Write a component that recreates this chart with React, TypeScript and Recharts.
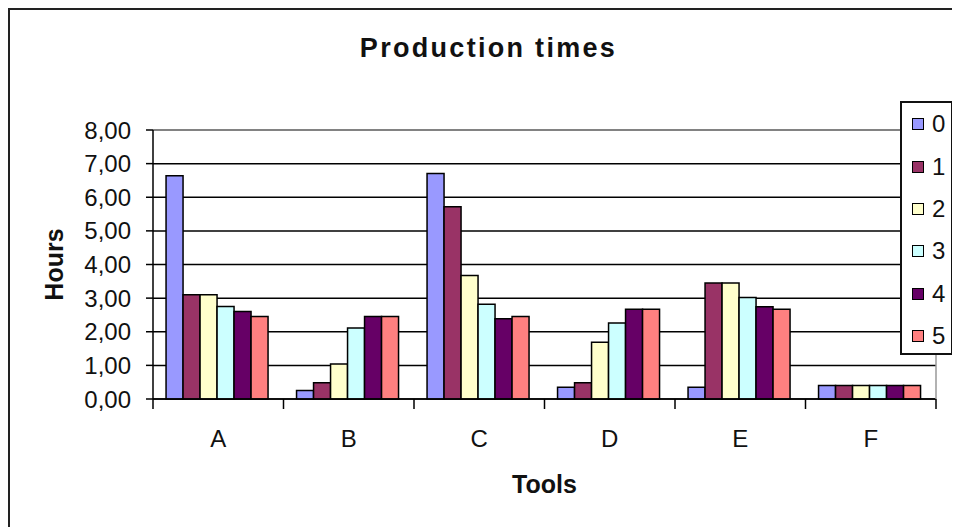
import React from "react";
import { BarChart, Bar, XAxis, YAxis, CartesianGrid, ReferenceLine } from "recharts";

const categories = ["A", "B", "C", "D", "E", "F"];
const seriesNames = ["0", "1", "2", "3", "4", "5"];
const series0 = [6.64, 0.25, 6.71, 0.35, 0.35, 0.4];
const series1 = [3.1, 0.48, 5.72, 0.48, 3.45, 0.4];
const series2 = [3.1, 1.04, 3.67, 1.69, 3.45, 0.4];
const series3 = [2.75, 2.11, 2.82, 2.26, 3.02, 0.4];
const series4 = [2.6, 2.45, 2.39, 2.67, 2.74, 0.4];
const series5 = [2.45, 2.45, 2.45, 2.67, 2.67, 0.4];
const yTicks = [0, 1, 2, 3, 4, 5, 6, 7, 8];
const colors = ["#9999FF", "#993366", "#FFFFCC", "#CCFFFF", "#660066", "#FF8080"];

const allSeries = [series0, series1, series2, series3, series4, series5];
const data = categories.map((c, i) => {
  const row: Record<string, string | number> = { cat: c };
  seriesNames.forEach((s, j) => {
    row["s" + s] = allSeries[j][i];
  });
  return row;
});

const W = 952;
const H = 519;
const MARGIN = { top: 122, right: 23, bottom: 28, left: 0 };
const YW = 145;
const RW = 1;
const XH = 100;
const BAND = (W - MARGIN.left - MARGIN.right - YW - RW) / categories.length;
const FONT = '"Liberation Sans", Arial, Helvetica, sans-serif';

const XTick = (props: any) => {
  const { x, y, payload, index } = props;
  const axisY = y - 31;
  const lx = x - BAND / 2;
  return (
    <g>
      <line x1={lx} y1={axisY} x2={lx} y2={axisY + 10} stroke="#000" strokeWidth={1.5} />
      {index === categories.length - 1 && (
        <line x1={x + BAND / 2} y1={axisY} x2={x + BAND / 2} y2={axisY + 10} stroke="#000" strokeWidth={1.5} />
      )}
      <text x={x} y={y} dy="0.71em" textAnchor="middle" fontSize={24} fill="#111" fontFamily={FONT}>
        {payload.value}
      </text>
    </g>
  );
};

const HoursLabel = (props: any) => {
  const vb = props.viewBox || {};
  const cy = (vb.y || 0) + (vb.height || 0) / 2;
  const cx = 55;
  return (
    <text
      x={cx}
      y={cy}
      textAnchor="middle"
      transform={`rotate(-90 ${cx} ${cy})`}
      fontSize={25}
      fontWeight="bold"
      fill="#111"
      fontFamily={FONT}
    >
      Hours
    </text>
  );
};

export default function App() {
  return (
    <div style={{ position: "relative", width: W, height: H, overflow: "hidden", fontFamily: FONT }}>
      <div
        style={{
          position: "absolute",
          left: 0,
          top: 0,
          width: 1100,
          height: 700,
          border: "2px solid #222",
          boxSizing: "border-box",
        }}
      />
      <BarChart
        width={W}
        height={H}
        data={data}
        margin={MARGIN}
        barCategoryGap="10%"
        barGap={0}
      >
        <CartesianGrid vertical={false} stroke="#000" strokeWidth={1.5} />
        <ReferenceLine y={8} stroke="#999" strokeWidth={1.5} />
        <XAxis
          dataKey="cat"
          height={XH}
          axisLine={{ stroke: "#000", strokeWidth: 1.5 }}
          tickLine={false}
          tickSize={0}
          tickMargin={31}
          tick={<XTick />}
          interval={0}
          label={{
            value: "Tools",
            position: "insideBottom",
            offset: 6,
            fontSize: 25,
            fontWeight: "bold",
            fill: "#111",
            fontFamily: FONT,
          }}
        />
        <YAxis
          width={YW}
          domain={[0, 8]}
          ticks={yTicks}
          interval={0}
          axisLine={{ stroke: "#000", strokeWidth: 1.5 }}
          tickLine={{ stroke: "#000", strokeWidth: 1.5 }}
          tickSize={7}
          tickMargin={15}
          tick={{ fontSize: 24, fill: "#111", fontFamily: FONT }}
          tickFormatter={(v: number) => v.toFixed(2).replace(".", ",")}
          label={<HoursLabel />}
        />
        <YAxis
          yAxisId="r"
          orientation="right"
          width={RW}
          domain={[0, 8]}
          ticks={yTicks}
          axisLine={{ stroke: "#999", strokeWidth: 1.5 }}
          tick={false}
          tickLine={false}
        />
        {seriesNames.map((s, j) => (
          <Bar
            key={s}
            dataKey={"s" + s}
            name={s}
            fill={colors[j]}
            stroke="#000"
            strokeWidth={1.5}
            isAnimationActive={false}
          />
        ))}
      </BarChart>
      <div
        style={{
          position: "absolute",
          left: 0,
          top: 27,
          width: 961,
          textAlign: "center",
          fontSize: 27,
          lineHeight: "27px",
          fontWeight: "bold",
          letterSpacing: 2.3,
          color: "#111",
        }}
      >
        Production times
      </div>
      <div
        style={{
          position: "absolute",
          left: 892,
          top: 93,
          width: 53,
          height: 254,
          border: "2px solid #111",
          boxSizing: "border-box",
          background: "#fff",
        }}
      >
        {seriesNames.map((s, j) => (
          <div
            key={s}
            style={{ position: "relative", height: 42.4, display: "flex", alignItems: "center" }}
          >
            <span
              style={{
                position: "absolute",
                left: 10,
                width: 12,
                height: 12,
                background: colors[j],
                border: "1.5px solid #000",
                boxSizing: "border-box",
              }}
            />
            <span
              style={{
                position: "absolute",
                left: 30,
                fontSize: 24,
                lineHeight: "24px",
                color: "#111",
              }}
            >
              {s}
            </span>
          </div>
        ))}
      </div>
    </div>
  );
}
